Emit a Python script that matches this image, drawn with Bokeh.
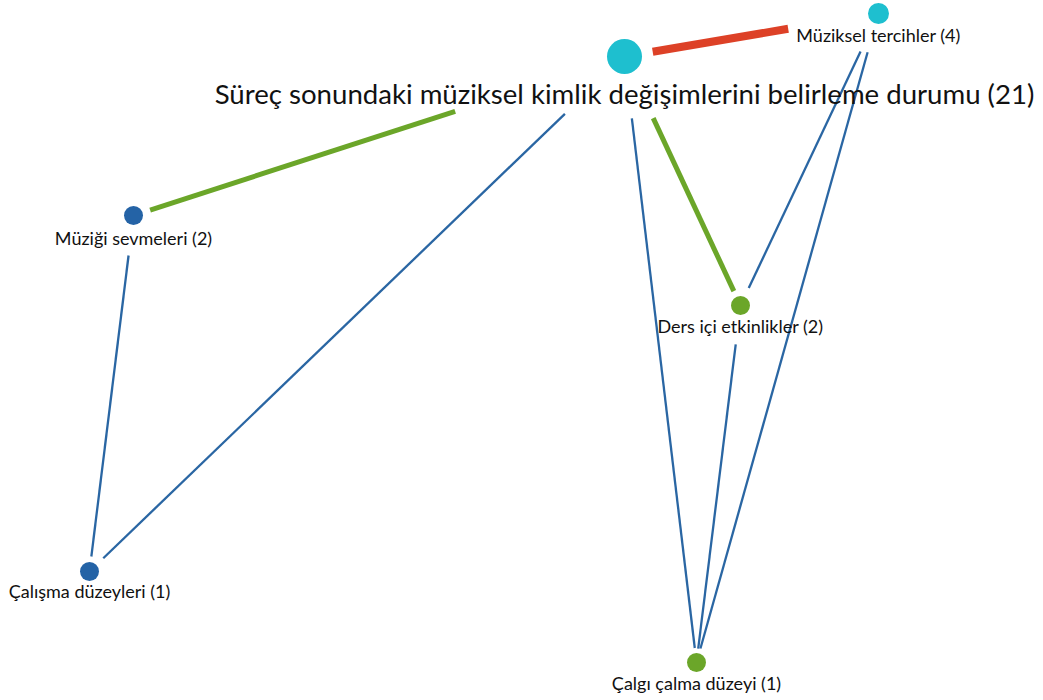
import math
from bokeh.plotting import figure
from bokeh.models import Range1d, ColumnDataSource
from bokeh.embed import file_html
from bokeh.resources import INLINE
from bokeh.core.properties import value

# ---- data ----
node_names = [
    "Süreç sonundaki müziksel kimlik değişimlerini belirleme durumu (21)",
    "Müziksel tercihler (4)",
    "Müziği sevmeleri (2)",
    "Ders içi etkinlikler (2)",
    "Çalışma düzeyleri (1)",
    "Çalgı çalma düzeyi (1)",
]
node_x = [624, 878, 133, 740, 89, 696]
node_y = [56, 13, 215, 305, 571, 662]
node_group = ["cyan", "cyan", "blue", "green", "blue", "green"]

edge_source = [0, 0, 0, 0, 0, 1, 1, 2, 3]
edge_target = [1, 2, 4, 5, 3, 3, 5, 4, 5]
edge_strength = [3, 2, 1, 1, 2, 1, 1, 1, 1]

# ---- styles ----
node_size = [35, 21, 19, 19, 19, 19]
group_color = {"cyan": "#1ebfcf", "blue": "#2463a6", "green": "#6ba629"}
strength_color = {3: "#dd4127", 2: "#6ba629", 1: "#2a66a3"}
strength_width = {3: 8, 2: 5, 1: 2.3}
edge_gap_start = [28.6, 178, 82.7, 62.4, 68, 42, 40.3, 40.3, 39.2]
edge_gap_end = [91.6, 17.5, 19.1, 14.6, 15.8, 19.3, 14.6, 15.1, 14]
label_font = "Lato"
label_size = ["27.6px", "18px", "18px", "18px", "18px", "18px"]
label_offset = [37, 21, 22, 20, 19, 20]

W, H = 1043, 700
p = figure(width=W, height=H, output_backend="svg", toolbar_location=None,
           x_range=Range1d(0, W), y_range=Range1d(H, 0),
           min_border=0)
p.axis.visible = False
p.grid.visible = False
p.outline_line_color = None
p.background_fill_color = "white"
p.border_fill_color = "white"

x0s, y0s, x1s, y1s, cols, wids = [], [], [], [], [], []
for s, t, st, g0, g1 in zip(edge_source, edge_target, edge_strength, edge_gap_start, edge_gap_end):
    ax, ay, bx, by = node_x[s], node_y[s], node_x[t], node_y[t]
    d = math.hypot(bx - ax, by - ay)
    ux, uy = (bx - ax) / d, (by - ay) / d
    x0s.append(ax + ux * g0); y0s.append(ay + uy * g0)
    x1s.append(bx - ux * g1); y1s.append(by - uy * g1)
    cols.append(strength_color[st]); wids.append(strength_width[st])

esrc = ColumnDataSource(dict(x0=x0s, y0=y0s, x1=x1s, y1=y1s, c=cols, w=wids))
p.segment("x0", "y0", "x1", "y1", source=esrc, line_color="c", line_width="w", line_cap="butt")

nsrc = ColumnDataSource(dict(x=node_x, y=node_y, s=node_size,
                             c=[group_color[g] for g in node_group]))
p.scatter("x", "y", size="s", source=nsrc, fill_color="c", line_color=None, marker="circle")

for i in range(len(node_names)):
    p.text(x=[node_x[i]], y=[node_y[i]], text=[node_names[i]], y_offset=label_offset[i],
           text_align="center", text_baseline="middle", text_font=value(label_font),
           text_font_size=label_size[i], text_color="#111111")

open("out.html", "w").write(file_html(p, INLINE))
